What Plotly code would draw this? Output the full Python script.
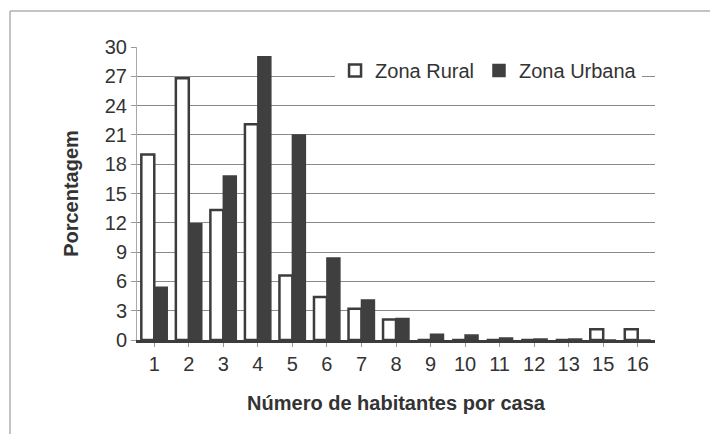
import plotly.graph_objects as go

categories = ["1", "2", "3", "4", "5", "6", "7", "8", "9", "10", "11", "12", "13", "15", "16"]
rural = [19.0, 26.8, 13.3, 22.1, 6.6, 4.4, 3.2, 2.1, 0.0, 0.0, 0.0, 0.0, 0.0, 1.1, 1.1]
urbana = [5.4, 11.9, 16.8, 29.0, 21.0, 8.4, 4.1, 2.2, 0.6, 0.5, 0.2, 0.1, 0.1, 0.0, 0.0]
y_ticks = [0, 3, 6, 9, 12, 15, 18, 21, 24, 27, 30]

# page body has an 8px margin, so the figure is smaller than the window to avoid scrollbars
W, H = 702, 426
L, R, T, B = 129, 55, 39, 94
pw, ph = W - L - R, H - T - B

fig = go.Figure()
fig.add_trace(go.Bar(
    x=categories, y=rural, name="Zona Rural",
    marker=dict(color="white", line=dict(color="#3c3c3c", width=2.5)),
))
fig.add_trace(go.Bar(
    x=categories, y=urbana, name="Zona Urbana",
    marker=dict(color="#3f3f3f", line=dict(color="#3f3f3f", width=1.5)),
))

font_family = "Liberation Sans, Arial, sans-serif"

fig.update_layout(
    width=W, height=H,
    margin=dict(l=L, r=R, t=T, b=B, autoexpand=False),
    paper_bgcolor="white", plot_bgcolor="white",
    barmode="group", bargap=0.25, bargroupgap=0.0,
    font=dict(family=font_family, color="#333333", size=20),
    showlegend=True,
    legend=dict(
        orientation="h", x=0.975, y=0.92, xanchor="right", yanchor="middle",
        bgcolor="white", font=dict(size=20, color="#333333"),
        tracegroupgap=0, itemwidth=30,
    ),
    xaxis=dict(
        type="category", showgrid=False, automargin=False,
        ticks="outside", ticklen=4, tickcolor="#999",
        tickfont=dict(size=20),
        showline=True, linecolor="#3c3c3c", linewidth=3,
        title=dict(text="<b>Número de habitantes por casa</b>", font=dict(size=20), standoff=22),
    ),
    yaxis=dict(
        range=[0, 30], tickvals=y_ticks, automargin=False,
        showgrid=True, gridcolor="#8a8a8a", gridwidth=1,
        ticks="outside", ticklen=5, tickcolor="#999",
        tickfont=dict(size=20),
        showline=True, linecolor="#aaaaaa", linewidth=1,
        zeroline=False,
        title=dict(text="<b>Porcentagem</b>", font=dict(size=20), standoff=20),
    ),
)

# outer frame (top and left edges visible)
fx, fy = 2, 3
x0 = (fx - L) / pw
y0 = (H - B - fy) / ph
fig.add_shape(type="line", xref="paper", yref="paper", x0=x0, x1=(W + 5 - L) / pw, y0=y0, y1=y0,
              line=dict(color="#b0b0b0", width=1.5))
fig.add_shape(type="line", xref="paper", yref="paper", x0=x0, x1=x0, y0=y0, y1=-(B + 5) / ph,
              line=dict(color="#b0b0b0", width=1.5))

fig.write_html("out.html")
